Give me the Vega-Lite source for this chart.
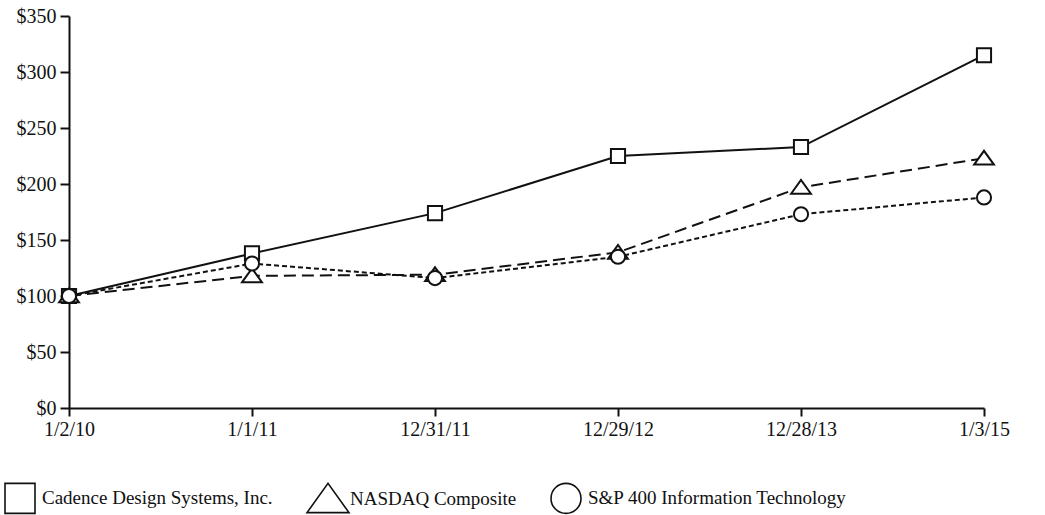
{
  "$schema": "https://vega.github.io/schema/vega-lite/v6.json",
  "width": 915,
  "height": 392,
  "padding": {"left": 69, "top": 16, "right": 61, "bottom": 107},
  "autosize": {"type": "none"},
  "background": "white",
  "config": {
    "view": {"stroke": null},
    "font": "Liberation Serif"
  },
  "data": {
    "values": [
      {"date": "1/2/10", "series": "Cadence Design Systems, Inc.", "value": 100},
      {"date": "1/1/11", "series": "Cadence Design Systems, Inc.", "value": 138},
      {"date": "12/31/11", "series": "Cadence Design Systems, Inc.", "value": 174},
      {"date": "12/29/12", "series": "Cadence Design Systems, Inc.", "value": 225},
      {"date": "12/28/13", "series": "Cadence Design Systems, Inc.", "value": 233},
      {"date": "1/3/15", "series": "Cadence Design Systems, Inc.", "value": 315},
      {"date": "1/2/10", "series": "NASDAQ Composite", "value": 100},
      {"date": "1/1/11", "series": "NASDAQ Composite", "value": 118},
      {"date": "12/31/11", "series": "NASDAQ Composite", "value": 119},
      {"date": "12/29/12", "series": "NASDAQ Composite", "value": 139},
      {"date": "12/28/13", "series": "NASDAQ Composite", "value": 197},
      {"date": "1/3/15", "series": "NASDAQ Composite", "value": 223},
      {"date": "1/2/10", "series": "S&P 400 Information Technology", "value": 100},
      {"date": "1/1/11", "series": "S&P 400 Information Technology", "value": 129},
      {"date": "12/31/11", "series": "S&P 400 Information Technology", "value": 116},
      {"date": "12/29/12", "series": "S&P 400 Information Technology", "value": 135},
      {"date": "12/28/13", "series": "S&P 400 Information Technology", "value": 173},
      {"date": "1/3/15", "series": "S&P 400 Information Technology", "value": 188}
    ]
  },
  "encoding": {
    "x": {
      "field": "date", "type": "ordinal", "sort": null,
      "scale": {"type": "point", "padding": 0},
      "axis": {"title": null, "grid": false, "labelAngle": 0, "tickSize": 8, "labelPadding": 3, "labelAlign": "center",
        "labelFont": "Liberation Serif", "labelFontSize": 20, "labelColor": "#111", "domainColor": "#111", "domainWidth": 2, "tickColor": "#111", "tickWidth": 2}
    },
    "y": {
      "field": "value", "type": "quantitative",
      "scale": {"domain": [0, 350], "nice": false},
      "axis": {"title": null, "grid": false, "values": [0, 50, 100, 150, 200, 250, 300, 350], "format": "$,.0f", "tickSize": 9, "labelPadding": 4,
        "labelFont": "Liberation Serif", "labelFontSize": 20, "labelColor": "#111", "domainColor": "#111", "domainWidth": 2, "tickColor": "#111", "tickWidth": 2}
    }
  },
  "layer": [
    {
      "transform": [{"filter": "datum.series == 'Cadence Design Systems, Inc.'"}],
      "mark": {"type": "line", "color": "#111", "strokeWidth": 2},
      "encoding": {}
    },
    {
      "transform": [{"filter": "datum.series == 'NASDAQ Composite'"}],
      "mark": {"type": "line", "color": "#111", "strokeWidth": 2, "strokeDash": [12, 6]},
      "encoding": {}
    },
    {
      "transform": [{"filter": "datum.series == 'S&P 400 Information Technology'"}],
      "mark": {"type": "line", "color": "#111", "strokeWidth": 2, "strokeDash": [5, 3]},
      "encoding": {}
    },
    {
      "mark": {"type": "point", "filled": false, "fill": "white", "fillOpacity": 1, "strokeWidth": 2, "size": 200, "opacity": 1},
      "encoding": {
        "color": {
          "field": "series", "type": "nominal",
          "scale": {"domain": ["Cadence Design Systems, Inc.", "NASDAQ Composite", "S&P 400 Information Technology"], "range": ["#111111", "#111111", "#111111"]},
          "legend": {
            "title": null, "orient": "none", "legendX": -65, "legendY": 466, "direction": "horizontal",
            "labelFont": "Liberation Serif", "labelFontSize": 19, "labelColor": "#111",
            "symbolStrokeWidth": 1.6, "symbolSize": 900, "symbolFillColor": "white",
            "columnPadding": 30, "labelOffset": 6, "labelLimit": 500,
            "encode": {
              "symbols": {
                "shape": {"value": {"expr": "datum.value == 'NASDAQ Composite' ? 'M-1,0H-0.6M0.6,0H0.85M-0.5,0.38L0,-0.4L0.5,0.38Z' : datum.value == 'Cadence Design Systems, Inc.' ? 'M-1,0H-0.33M0.33,0H1M-0.33,-0.33H0.33V0.33H-0.33Z' : 'M-1,0H-0.82M-0.7,0H-0.52M0.45,0H0.6M0.72,0H0.87M-0.33,0A0.33,0.33 0 1,0 0.33,0A0.33,0.33 0 1,0 -0.33,0Z'"}}
              }
            }
          }
        },
        "shape": {
          "field": "series", "type": "nominal",
          "scale": {"domain": ["Cadence Design Systems, Inc.", "NASDAQ Composite", "S&P 400 Information Technology"], "range": ["square", "M-1.4,0.9L0,-1.05L1.4,0.9Z", "circle"]},
          "legend": {
            "title": null, "orient": "none", "legendX": -65, "legendY": 466, "direction": "horizontal",
            "labelFont": "Liberation Serif", "labelFontSize": 19, "labelColor": "#111",
            "symbolStrokeWidth": 1.6, "symbolSize": 900, "symbolFillColor": "white",
            "columnPadding": 30, "labelOffset": 6, "labelLimit": 500,
            "encode": {
              "symbols": {
                "shape": {"value": {"expr": "datum.value == 'NASDAQ Composite' ? 'M-1,0H-0.6M0.6,0H0.85M-0.5,0.38L0,-0.4L0.5,0.38Z' : datum.value == 'Cadence Design Systems, Inc.' ? 'M-1,0H-0.33M0.33,0H1M-0.33,-0.33H0.33V0.33H-0.33Z' : 'M-1,0H-0.82M-0.7,0H-0.52M0.45,0H0.6M0.72,0H0.87M-0.33,0A0.33,0.33 0 1,0 0.33,0A0.33,0.33 0 1,0 -0.33,0Z'"}}
              }
            }
          }
        }
      }
    }
  ]
}
